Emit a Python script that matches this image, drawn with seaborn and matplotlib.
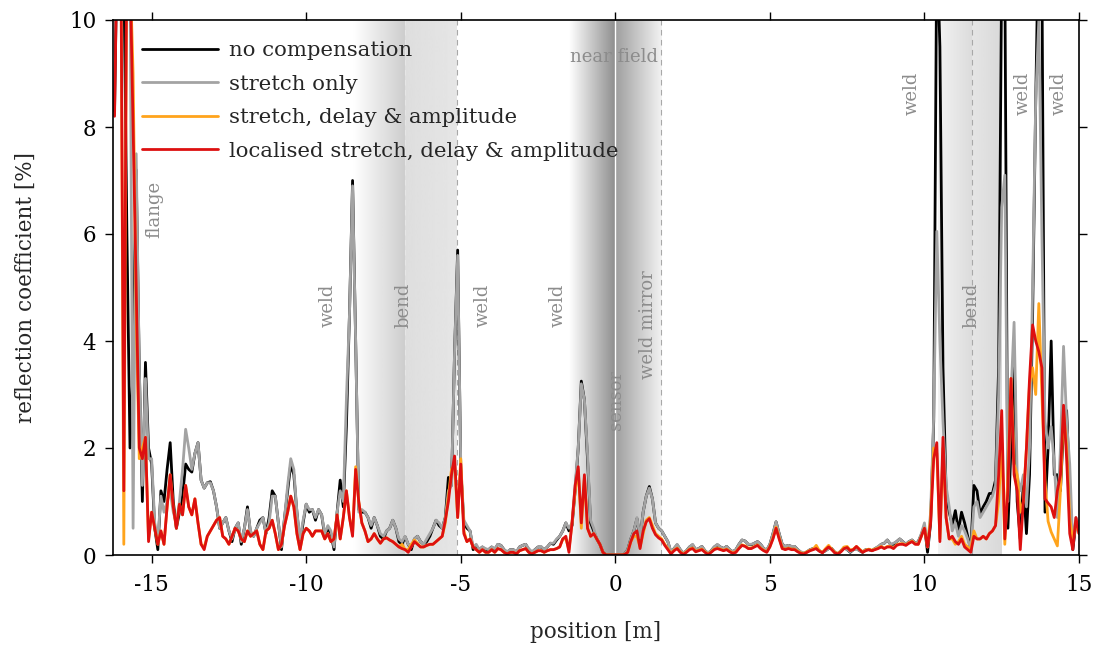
import numpy as np
import pandas as pd
import matplotlib
matplotlib.use("Agg")
import matplotlib.pyplot as plt
from matplotlib.lines import Line2D
import seaborn as sns

sns.set_theme(style="ticks")
plt.rcParams["font.family"] = ["DejaVu Serif"]
plt.rcParams["axes.unicode_minus"] = False

# sampling positions [m] (0.1 m grid from -16.2 to 15.0)
position = np.round(np.linspace(-16.2, 15.0, 313), 1)

no_compensation = [
    8.3, 12, 14, 11, 6.0, 2.0, 3.5, 7.2, 3.5, 1.0,
    3.6, 2.0, 1.7, 0.5, 0.1, 1.2, 1.0, 1.6, 2.1, 1.0,
    0.5, 0.8, 1.1, 1.7, 1.6, 1.55, 1.9, 2.1, 1.4, 1.25,
    1.35, 1.37, 1.2, 0.9, 0.5, 0.6, 0.7, 0.45, 0.25, 0.5,
    0.6, 0.2, 0.5, 0.9, 0.4, 0.35, 0.5, 0.65, 0.7, 0.4,
    0.7, 1.2, 1.1, 0.6, 0.1, 0.7, 1.2, 1.7, 1.5, 0.8,
    0.2, 0.6, 0.95, 0.8, 0.85, 0.65, 0.85, 0.75, 0.35, 0.5,
    0.4, 0.1, 0.8, 1.4, 0.9, 2.4, 4.5, 7.0, 4.0, 0.85,
    0.8, 0.8, 0.7, 0.5, 0.7, 0.55, 0.35, 0.3, 0.45, 0.5,
    0.65, 0.5, 0.25, 0.2, 0.34, 0.2, 0.1, 0.3, 0.35, 0.25,
    0.2, 0.25, 0.35, 0.5, 0.65, 0.55, 0.5, 0.7, 1.45, 1.3,
    3.8, 5.7, 1.6, 0.6, 0.5, 0.45, 0.1, 0.15, 0.1, 0.15,
    0.1, 0.1, 0.15, 0.1, 0.2, 0.18, 0.1, 0.05, 0.1, 0.1,
    0.05, 0.15, 0.18, 0.2, 0.1, 0.05, 0.1, 0.15, 0.15, 0.1,
    0.15, 0.22, 0.2, 0.28, 0.35, 0.45, 0.6, 0.45, 0.55, 1.2,
    2.0, 3.25, 2.9, 1.8, 0.6, 0.45, 0.3, 0.2, 0.05, 0.0,
    0.0, 0.0, 0.0, 0.0, 0.0, 0.02, 0.1, 0.3, 0.45, 0.68,
    0.3, 0.8, 1.1, 1.28, 1.05, 0.6, 0.5, 0.45, 0.35, 0.25,
    0.05, 0.12, 0.19, 0.1, 0.03, 0.08, 0.15, 0.19, 0.1, 0.12,
    0.16, 0.08, 0.03, 0.08, 0.15, 0.19, 0.15, 0.12, 0.16, 0.1,
    0.06, 0.1, 0.2, 0.28, 0.26, 0.2, 0.19, 0.22, 0.25, 0.2,
    0.12, 0.09, 0.2, 0.4, 0.62, 0.4, 0.2, 0.16, 0.18, 0.16,
    0.16, 0.1, 0.05, 0.03, 0.06, 0.1, 0.12, 0.12, 0.08, 0.05,
    0.08, 0.12, 0.12, 0.05, 0.02, 0.08, 0.14, 0.1, 0.05, 0.1,
    0.12, 0.08, 0.05, 0.1, 0.1, 0.08, 0.12, 0.15, 0.2, 0.22,
    0.28, 0.2, 0.2, 0.25, 0.3, 0.25, 0.2, 0.25, 0.28, 0.22,
    0.25, 0.38, 0.55, 0.05, 0.6, 2.5, 11.5, 9.5, 3.5, 1.2,
    0.8, 0.57, 0.83, 0.45, 0.8, 0.6, 0.35, 0.1, 1.3, 1.2,
    0.77, 0.9, 1.0, 1.15, 1.15, 1.4, 3.5, 11.0, 11.0, 0.5,
    2.0, 3.8, 1.0, 0.3, 1.35, 0.4, 1.5, 4.5, 8.5, 12.0,
    11.0, 0.8, 2.0, 4.0, 1.5, 1.5, 1.2, 2.4, 2.7, 1.2,
    0.1, 0.6, 0.5,
]

stretch_only = [
    11, 12, 14, 12, 11, 11, 0.5, 7.5, 3.5, 1.3,
    3.3, 1.8, 1.8, 0.6, 0.3, 1.1, 0.8, 1.0, 1.2, 0.8,
    0.6, 1.0, 1.6, 2.35, 2.0, 1.6, 1.9, 2.1, 1.4, 1.25,
    1.35, 1.35, 1.2, 0.9, 0.5, 0.6, 0.7, 0.45, 0.3, 0.5,
    0.6, 0.25, 0.5, 0.85, 0.45, 0.35, 0.5, 0.6, 0.7, 0.4,
    0.6, 1.1, 1.1, 0.6, 0.15, 0.7, 1.3, 1.8, 1.6, 0.8,
    0.3, 0.65, 0.95, 0.85, 0.85, 0.7, 0.85, 0.75, 0.4, 0.55,
    0.45, 0.15, 0.8, 1.2, 1.0, 2.9, 4.5, 6.9, 4.0, 0.8,
    0.85, 0.8, 0.7, 0.55, 0.7, 0.55, 0.4, 0.35, 0.45, 0.5,
    0.65, 0.5, 0.3, 0.25, 0.35, 0.2, 0.15, 0.3, 0.35, 0.25,
    0.2, 0.3, 0.4, 0.5, 0.65, 0.6, 0.5, 0.7, 1.2, 1.3,
    3.8, 5.6, 1.7, 0.65, 0.55, 0.45, 0.15, 0.2, 0.1, 0.15,
    0.12, 0.1, 0.15, 0.12, 0.2, 0.18, 0.1, 0.06, 0.1, 0.1,
    0.06, 0.15, 0.18, 0.2, 0.12, 0.06, 0.1, 0.15, 0.16, 0.1,
    0.15, 0.22, 0.22, 0.3, 0.35, 0.45, 0.6, 0.5, 0.6, 1.3,
    2.0, 3.2, 2.9, 1.9, 0.65, 0.5, 0.3, 0.2, 0.05, 0.0,
    0.0, 0.0, 0.0, 0.0, 0.0, 0.02, 0.1, 0.3, 0.45, 0.7,
    0.32, 0.8, 1.1, 1.25, 1.05, 0.6, 0.5, 0.45, 0.35, 0.25,
    0.06, 0.12, 0.2, 0.1, 0.04, 0.08, 0.15, 0.2, 0.1, 0.12,
    0.16, 0.08, 0.04, 0.08, 0.15, 0.2, 0.15, 0.12, 0.16, 0.1,
    0.06, 0.1, 0.2, 0.28, 0.26, 0.2, 0.2, 0.22, 0.25, 0.2,
    0.12, 0.1, 0.2, 0.4, 0.62, 0.4, 0.2, 0.16, 0.18, 0.16,
    0.16, 0.1, 0.06, 0.04, 0.06, 0.1, 0.12, 0.12, 0.08, 0.05,
    0.08, 0.12, 0.12, 0.06, 0.03, 0.08, 0.14, 0.1, 0.06, 0.1,
    0.12, 0.08, 0.06, 0.1, 0.1, 0.08, 0.12, 0.16, 0.2, 0.22,
    0.28, 0.2, 0.22, 0.25, 0.3, 0.25, 0.2, 0.25, 0.28, 0.22,
    0.25, 0.4, 0.6, 0.15, 0.8, 2.6, 6.05, 4.0, 2.5, 1.3,
    0.9, 0.45, 0.6, 0.35, 0.55, 0.45, 0.3, 0.1, 0.9, 1.0,
    0.7, 0.8, 0.9, 1.0, 1.1, 1.3, 3.0, 6.5, 7.1, 1.0,
    3.0, 4.35, 1.5, 1.2, 1.5, 0.9, 2.0, 5.0, 8.5, 10.0,
    6.0, 2.5, 2.0, 2.4, 1.7, 0.7, 2.0, 3.9, 2.5, 1.7,
    0.2, 0.7, 0.6,
]

stretch_delay_amplitude = [
    10.5, 12, 12, 0.2, 12, 11, 9.0, 4.5, 1.8, 2.0,
    2.2, 0.3, 0.8, 0.5, 0.2, 0.45, 0.2, 0.9, 1.5, 0.9,
    0.5, 0.95, 0.75, 1.3, 0.9, 0.75, 1.05, 0.6, 0.2, 0.15,
    0.35, 0.45, 0.55, 0.65, 0.7, 0.35, 0.3, 0.2, 0.35, 0.5,
    0.45, 0.3, 0.25, 0.45, 0.35, 0.4, 0.45, 0.2, 0.1, 0.45,
    0.5, 0.65, 0.4, 0.1, 0.2, 0.55, 0.8, 1.1, 0.9, 0.4,
    0.1, 0.4, 0.5, 0.45, 0.35, 0.45, 0.45, 0.45, 0.3, 0.4,
    0.25, 0.3, 0.75, 0.3, 0.7, 1.2, 0.7, 0.4, 1.65, 1.0,
    0.6, 0.45, 0.25, 0.3, 0.4, 0.3, 0.22, 0.3, 0.32, 0.28,
    0.25, 0.2, 0.15, 0.2, 0.1, 0.1, 0.2, 0.28, 0.22, 0.15,
    0.15, 0.18, 0.2, 0.2, 0.25, 0.3, 0.35, 0.6, 1.1, 1.6,
    1.7, 0.7, 1.8, 0.45, 0.25, 0.3, 0.15, 0.1, 0.05, 0.1,
    0.05, 0.05, 0.1, 0.05, 0.12, 0.1, 0.05, 0.02, 0.05, 0.05,
    0.02, 0.08, 0.1, 0.12, 0.05, 0.02, 0.05, 0.08, 0.08, 0.05,
    0.08, 0.1, 0.1, 0.12, 0.15, 0.3, 0.3, 0.1, 0.6, 1.2,
    1.6, 0.5, 1.45, 0.5, 0.35, 0.4, 0.3, 0.2, 0.05, 0.0,
    0.0, 0.0, 0.0, 0.0, 0.0, 0.01, 0.05, 0.25, 0.35, 0.35,
    0.15, 0.4, 0.65, 0.7, 0.55, 0.4, 0.35, 0.3, 0.2, 0.12,
    0.03, 0.09, 0.13, 0.06, 0.02, 0.06, 0.11, 0.13, 0.07, 0.09,
    0.11, 0.06, 0.02, 0.06, 0.11, 0.13, 0.11, 0.09, 0.11, 0.07,
    0.04, 0.06, 0.13, 0.19, 0.17, 0.13, 0.13, 0.16, 0.19, 0.13,
    0.09, 0.06, 0.16, 0.32, 0.52, 0.32, 0.13, 0.11, 0.13, 0.11,
    0.11, 0.07, 0.04, 0.03, 0.06, 0.09, 0.11, 0.18, 0.08, 0.05,
    0.12, 0.18, 0.11, 0.05, 0.03, 0.07, 0.15, 0.16, 0.09, 0.11,
    0.16, 0.11, 0.06, 0.09, 0.11, 0.09, 0.11, 0.13, 0.16, 0.13,
    0.16, 0.16, 0.13, 0.19, 0.21, 0.21, 0.19, 0.23, 0.26, 0.21,
    0.2, 0.35, 0.5, 0.15, 0.7, 2.0, 1.9, 0.3, 2.0, 0.7,
    0.3, 0.3, 0.2, 0.25, 0.35, 0.2, 0.15, 0.1, 0.45, 0.3,
    0.3, 0.35, 0.3, 0.4, 0.45, 0.55, 1.0, 2.1, 0.2, 1.5,
    3.3, 1.7, 1.5, 0.8, 1.0, 2.0, 3.2, 3.5, 3.0, 4.7,
    3.0, 1.4, 0.63, 0.43, 0.3, 0.17, 1.2, 2.7, 2.0, 0.7,
    0.23, 0.6, 0.4,
]

localised = [
    8.2, 12, 12, 1.2, 12, 11, 8.0, 5.0, 2.0, 1.8,
    2.2, 0.25, 0.8, 0.5, 0.2, 0.45, 0.2, 0.9, 1.5, 0.9,
    0.5, 0.95, 0.75, 1.3, 0.9, 0.75, 1.05, 0.6, 0.2, 0.1,
    0.35, 0.45, 0.55, 0.65, 0.7, 0.35, 0.3, 0.2, 0.35, 0.5,
    0.45, 0.3, 0.25, 0.45, 0.35, 0.4, 0.45, 0.2, 0.1, 0.45,
    0.5, 0.65, 0.4, 0.1, 0.2, 0.55, 0.8, 1.1, 0.9, 0.4,
    0.1, 0.4, 0.5, 0.45, 0.35, 0.45, 0.45, 0.45, 0.3, 0.4,
    0.25, 0.3, 0.75, 0.3, 0.7, 1.2, 0.7, 0.35, 1.6, 1.0,
    0.6, 0.45, 0.25, 0.3, 0.4, 0.3, 0.22, 0.3, 0.32, 0.28,
    0.25, 0.2, 0.15, 0.12, 0.1, 0.05, 0.15, 0.25, 0.2, 0.15,
    0.15, 0.18, 0.2, 0.2, 0.25, 0.3, 0.35, 0.65, 1.0, 1.5,
    1.85, 0.7, 1.7, 0.4, 0.25, 0.3, 0.15, 0.1, 0.05, 0.1,
    0.05, 0.05, 0.1, 0.05, 0.12, 0.1, 0.05, 0.02, 0.05, 0.05,
    0.02, 0.08, 0.1, 0.12, 0.05, 0.02, 0.05, 0.08, 0.08, 0.05,
    0.08, 0.1, 0.1, 0.12, 0.15, 0.3, 0.35, 0.05, 0.6, 1.3,
    1.65, 0.6, 1.5, 0.5, 0.35, 0.4, 0.3, 0.2, 0.05, 0.0,
    0.0, 0.0, 0.0, 0.0, 0.0, 0.01, 0.05, 0.25, 0.4, 0.45,
    0.12, 0.45, 0.62, 0.68, 0.5, 0.38, 0.32, 0.28, 0.18, 0.1,
    0.02, 0.08, 0.12, 0.05, 0.01, 0.05, 0.1, 0.12, 0.06, 0.08,
    0.1, 0.05, 0.01, 0.05, 0.1, 0.12, 0.1, 0.08, 0.1, 0.06,
    0.03, 0.05, 0.12, 0.18, 0.16, 0.12, 0.12, 0.15, 0.18, 0.12,
    0.08, 0.05, 0.15, 0.3, 0.5, 0.3, 0.12, 0.1, 0.12, 0.1,
    0.1, 0.06, 0.03, 0.02, 0.05, 0.08, 0.1, 0.12, 0.07, 0.04,
    0.1, 0.15, 0.1, 0.04, 0.02, 0.06, 0.12, 0.14, 0.08, 0.1,
    0.16, 0.1, 0.05, 0.08, 0.1, 0.08, 0.1, 0.12, 0.15, 0.12,
    0.15, 0.15, 0.12, 0.18, 0.2, 0.2, 0.18, 0.22, 0.25, 0.2,
    0.2, 0.35, 0.5, 0.15, 0.6, 1.8, 2.1, 0.25, 2.2, 0.7,
    0.3, 0.35, 0.25, 0.2, 0.3, 0.15, 0.1, 0.05, 0.35, 0.3,
    0.3, 0.35, 0.3, 0.4, 0.45, 0.55, 1.5, 2.7, 0.3, 1.2,
    3.3, 1.5, 1.2, 0.1, 1.0, 2.0, 3.3, 4.3, 4.0, 3.8,
    3.5, 1.05, 0.97, 0.9, 0.7, 1.2, 1.5, 2.8, 1.8, 0.4,
    0.1, 0.7, 0.4,
]

series_names = [
    "no compensation",
    "stretch only",
    "stretch, delay & amplitude",
    "localised stretch, delay & amplitude",
]
series_colors = ["#000000", "#a3a3a3", "#ffa41c", "#dd1010"]

# annotations: (text, x, y, rotation)
annotations = [
    ("flange", -14.9, 6.45, 90),
    ("weld", -9.3, 4.67, 90),
    ("bend", -6.85, 4.67, 90),
    ("weld", -4.3, 4.67, 90),
    ("weld", -1.87, 4.67, 90),
    ("sensor", 0.03, 2.9, 90),
    ("weld mirror", 1.07, 4.3, 90),
    ("near field", -0.05, 9.3, 0),
    ("weld", 9.6, 8.63, 90),
    ("bend", 11.52, 4.67, 90),
    ("weld", 13.18, 8.63, 90),
    ("weld", 14.35, 8.63, 90),
]

x_ticks = [-15, -10, -5, 0, 5, 10, 15]
y_ticks = [0, 2, 4, 6, 8, 10]

frames = []
for name, vals in zip(series_names, [no_compensation, stretch_only,
                                     stretch_delay_amplitude, localised]):
    frames.append(pd.DataFrame({"position": position, "value": vals, "series": name}))
df = pd.concat(frames, ignore_index=True)

fig = plt.figure(figsize=(10.95, 6.5), dpi=100)
ax = fig.add_axes([113 / 1095, 95 / 650, 966 / 1095, 535 / 650])


def band(x0, x1, c0, c1):
    g = np.linspace(c0, c1, 256).reshape(1, -1)
    ax.imshow(g, extent=(x0, x1, 0, 10), aspect="auto", cmap="gray",
              vmin=0, vmax=1, zorder=0, interpolation="bilinear")


band(-8.5, -6.8, 1.0, 0.80)
band(-6.8, -5.13, 0.87, 0.90)
band(-1.5, 0.0, 1.0, 0.55)
band(0.0, 1.49, 0.62, 0.95)
band(10.45, 11.55, 0.95, 0.86)
band(11.55, 12.5, 0.90, 0.85)

for xv in [-5.13, 1.49, 11.55]:
    ax.axvline(xv, color="#a8a8a8", lw=0.8, ls=(0, (5, 4)), zorder=0.5)
ax.axvline(-6.8, color="#e6e6e6", lw=0.8, ls=(0, (5, 4)), zorder=0.5)
ax.axvline(0.0, color="white", lw=1.0, zorder=0.5)

for s, xv, yv, rot in annotations:
    ax.text(xv, yv, s, rotation=rot, ha="center", va="center",
            color="#8c8c8c", fontsize=13, zorder=1)

sns.lineplot(data=df, x="position", y="value", hue="series",
             hue_order=series_names, palette=dict(zip(series_names, series_colors)),
             estimator=None, sort=False, lw=2.0, ax=ax, legend=False, zorder=2)

ax.set_xlim(-16.25, 15.0)
ax.set_ylim(0, 10)
ax.set_xticks(x_ticks)
ax.set_yticks(y_ticks)
ax.set_xticklabels([str(t) for t in x_ticks])
ax.set_yticklabels([str(t) for t in y_ticks])
ax.tick_params(direction="out", length=6, width=1.0, top=True, right=True,
               labelsize=15.5, colors="black")
ax.tick_params(axis="x", pad=8)
ax.tick_params(axis="y", pad=6)
for sp in ax.spines.values():
    sp.set_visible(True)
    sp.set_color("black")
    sp.set_linewidth(1.2)

ax.set_xlabel("position [m]", fontsize=15.5, labelpad=18)
ax.set_ylabel("reflection coefficient [%]", fontsize=15.5, labelpad=23)

handles = [Line2D([0], [0], color=c, lw=2.0) for c in series_colors]
ax.legend(handles, series_names, loc="upper left", bbox_to_anchor=(0.03, 0.96),
          frameon=False, fontsize=15.3, handlelength=3.6, handletextpad=0.5,
          labelspacing=0.68, borderaxespad=0, borderpad=0)

fig.savefig("out.png", dpi=100)
